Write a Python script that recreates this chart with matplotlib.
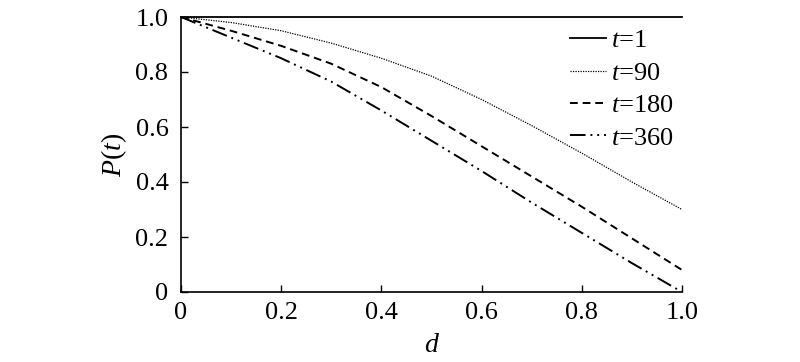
import matplotlib
matplotlib.use("Agg")
import matplotlib.pyplot as plt

plt.rcParams["font.family"] = "serif"
plt.rcParams["font.serif"] = ["Liberation Serif", "DejaVu Serif"]
plt.rcParams["mathtext.fontset"] = "custom"
plt.rcParams["mathtext.rm"] = "Liberation Serif"
plt.rcParams["mathtext.it"] = "Liberation Serif:italic"

d = [0.0, 0.1, 0.2, 0.3, 0.4, 0.5, 0.6, 0.7, 0.8, 0.9, 1.0]
p_t1 = [1.0] * 11
p_t90 = [1.0, 0.98, 0.95, 0.905, 0.85, 0.785, 0.70, 0.605, 0.505, 0.40, 0.30]
p_t180 = [1.0, 0.95, 0.895, 0.83, 0.745, 0.64, 0.53, 0.42, 0.31, 0.195, 0.08]
p_t360 = [1.0, 0.925, 0.85, 0.765, 0.66, 0.55, 0.44, 0.325, 0.215, 0.105, 0.0]

labels = ["$t$=1", "$t$=90", "$t$=180", "$t$=360"]
xticks = [0, 0.2, 0.4, 0.6, 0.8, 1.0]
xticklabels = ["0", "0.2", "0.4", "0.6", "0.8", "1.0"]
yticks = [0, 0.2, 0.4, 0.6, 0.8, 1.0]
yticklabels = ["0", "0.2", "0.4", "0.6", "0.8", "1.0"]

fig = plt.figure(figsize=(8, 3.62), dpi=100)
ax = fig.add_axes([181 / 800, 70 / 362, 501 / 800, 275 / 362])

ax.plot(d, p_t1, color="black", linewidth=1.3, linestyle="-", label=labels[0],
        clip_on=False)
ax.plot(d, p_t90, color="black", linewidth=0.9, linestyle=(0, (1, 1)), label=labels[1])
ax.plot(d, p_t180, color="black", linewidth=1.4, linestyle=(0, (4, 2.5)), label=labels[2])
ax.plot(d, p_t360, color="black", linewidth=1.4,
        linestyle=(0, (8, 2.5, 1, 2.5, 1, 2.5)), label=labels[3])

ax.set_xlim(0, 1.0)
ax.set_ylim(0, 1.0)
ax.set_xticks(xticks)
ax.set_xticklabels(xticklabels)
ax.set_yticks(yticks)
ax.set_yticklabels(yticklabels)
ax.tick_params(direction="in", length=5, width=1, labelsize=19, pad=7)
ax.tick_params(axis="y", pad=9)
ax.spines["top"].set_visible(False)
ax.spines["right"].set_visible(False)
for s in ("left", "bottom"):
    ax.spines[s].set_linewidth(1.2)

ax.set_xlabel("$d$", fontsize=20, labelpad=7)
ax.set_ylabel("$P$($t$)", fontsize=20, labelpad=5)

ax.legend(loc="upper right", frameon=False, fontsize=19, handlelength=1.35,
          handletextpad=0.2, labelspacing=0.34, borderaxespad=0.0,
          bbox_to_anchor=(1.005, 0.995))

fig.savefig("out.png", dpi=100)
